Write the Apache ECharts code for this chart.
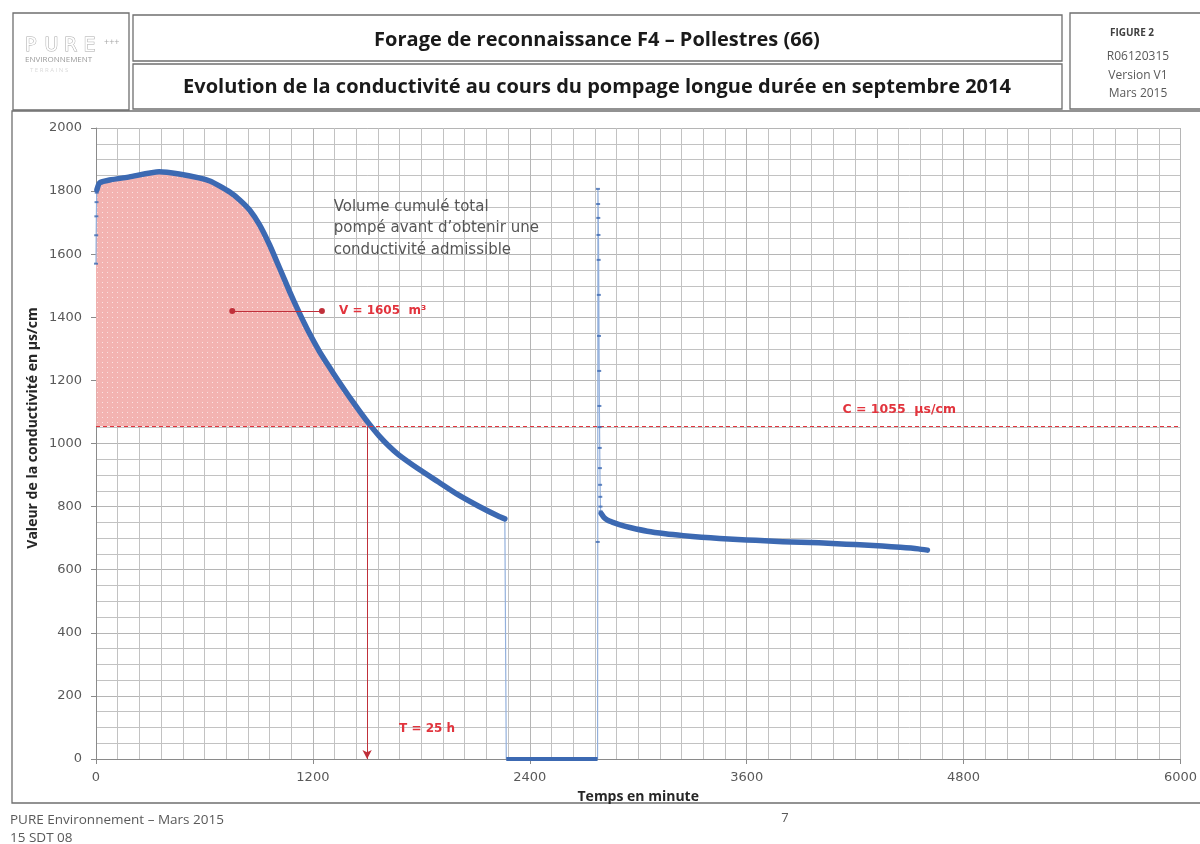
<!DOCTYPE html>
<html lang="fr">
<head>
<meta charset="utf-8">
<title>Forage F4 – Pollestres : évolution de la conductivité</title>
<script src="https://cdn.jsdelivr.net/npm/echarts@6/dist/echarts.min.js"></script>
<style>
  html, body { margin: 0; padding: 0; background: #ffffff; }
  #chart { width: 1200px; height: 844px; }
</style>
</head>
<body>
<div id="chart"></div>
<script>
// Démarrage du pompage (premières mesures, minutes / µs/cm)
const tempsDemarrage = [0, 1, 2, 3, 4];
const condDemarrage = [1570, 1660, 1720, 1765, 1795];

// Pompage longue durée – première phase
const tempsPhase1 = [5, 20, 75, 185, 350, 460, 570, 630, 685, 740, 795, 850, 905, 960, 1015, 1070,
  1125, 1180, 1235, 1290, 1345, 1400, 1455, 1510, 1565, 1620, 1675, 1785, 1895, 2005, 2115, 2225, 2262];
const condPhase1 = [1804, 1826, 1835, 1845, 1861, 1854, 1842, 1832, 1816, 1797, 1772, 1740, 1693,
  1630, 1557, 1483, 1414, 1350, 1293, 1243, 1195, 1149, 1105, 1063, 1025, 992, 964, 919, 878, 837,
  802, 770, 761];

// Arrêt de la pompe
const tempsArret = [2270, 2400, 2550, 2700, 2775];
const condArret = [0, 0, 0, 0, 0];

// Reprise du pompage (chute rapide de la conductivité)
const tempsReprise = [2776, 2777, 2778, 2779, 2780, 2781, 2782, 2783, 2784, 2785, 2786, 2787, 2788,
  2789, 2790, 2791, 2792];
const condReprise = [688, 1807, 1759, 1715, 1661, 1582, 1471, 1341, 1230, 1119, 1052, 986, 922,
  869, 831, 800, 785];

// Pompage longue durée – seconde phase
const tempsPhase2 = [2795, 2810, 2830, 2860, 2900, 2960, 3050, 3150, 3250, 3350, 3450, 3550, 3650,
  3750, 3850, 3950, 4050, 4150, 4250, 4350, 4450, 4550, 4600];
const condPhase2 = [778, 766, 757, 750, 742, 733, 722, 714, 708, 703, 699, 696, 693, 690, 688, 686,
  684, 681, 678, 675, 671, 666, 662];

// Repères d'interprétation
const seuilConductivite = 1055;   // µs/cm, conductivité admissible
const tempsSeuil = 1500;          // minutes (25 h)
const volumeCumule = 1605;        // m3 pompés avant le seuil
const flecheVolume = [[754, 1420], [1250, 1420]];

// Graduations des axes
const ticksX = [0, 1200, 2400, 3600, 4800, 6000];
const ticksY = [0, 200, 400, 600, 800, 1000, 1200, 1400, 1600, 1800, 2000];

const pairs = (xs, ys) => xs.map((x, i) => [x, ys[i]]);

const bleu = '#3c69b2';
const bleuClair = '#93b0dc';
const rouge = '#e2343d';
const rougeFonce = '#c0303a';
const gris = '#595959';
const police = '"Open Sans", "Liberation Sans", sans-serif';
const policeLarge = '"DejaVu Sans", "Open Sans", sans-serif';

// Motif rose pointillé pour le volume cumulé
const motif = document.createElement('canvas');
motif.width = 5; motif.height = 5;
(function () {
  const c = motif.getContext('2d');
  c.fillStyle = '#f3b3b1';
  c.fillRect(0, 0, 5, 5);
  c.fillStyle = '#fbe3e2';
  c.fillRect(2, 2, 1, 1);
})();

// Zone entre la courbe et le seuil, jusqu'à T = 25 h
const zoneVolume = pairs(tempsDemarrage, condDemarrage)
  .concat(pairs(tempsPhase1, condPhase1).filter(p => p[0] < tempsSeuil))
  .concat([[tempsSeuil, seuilConductivite]]);

const toutesMesures = pairs(tempsDemarrage, condDemarrage)
  .concat(pairs(tempsPhase1, condPhase1))
  .concat(pairs(tempsArret, condArret))
  .concat(pairs(tempsReprise, condReprise))
  .concat(pairs(tempsPhase2, condPhase2));

const chart = echarts.init(document.getElementById('chart'), null, { renderer: 'canvas' });

const gridLeft = 96, gridTop = 128, gridRight = 14, gridBottom = 85;

const cadre = (x, y, w, h) => ({
  type: 'rect', shape: { x, y, width: w, height: h }, silent: true,
  style: { fill: 'none', stroke: '#6f6f6f', lineWidth: 1.3 }
});
const texte = (x, y, t, opts, extra) => Object.assign({
  type: 'text', x, y, silent: true, z: 20,
  style: Object.assign({ text: t, fill: gris, font: '11px ' + police, align: 'left', verticalAlign: 'middle' }, opts || {})
}, extra || {});

const lettresLogo = ['P', 'U', 'R', 'E'];
const logo = lettresLogo.map((l, i) => texte(25 + i * 19.5, 46, l,
  { font: '19px ' + policeLarge, fill: '#ffffff', stroke: '#a9a9a9', lineWidth: 1 }));

const miseEnPage = [
  cadre(13, 13, 116, 97),
  cadre(133, 15, 929, 46),
  cadre(133, 64, 929, 45),
  cadre(1070, 13, 140, 96),
  cadre(12, 111, 1200, 692)
].concat(logo).concat([
  texte(104, 42, '+++', { font: '9px ' + police, fill: '#a8a8a8' }),
  texte(25, 60, 'ENVIRONNEMENT', { font: '8px ' + police, fill: '#9a9a9a' }),
  texte(30, 70, 'T E R R A I N S', { font: '6px ' + police, fill: '#dadada' }),
  // Titres
  texte(597, 40, 'Forage de reconnaissance F4 – Pollestres (66)', { font: 'bold 20px ' + police, fill: '#1a1a1a', align: 'center' }),
  texte(597, 87, 'Evolution de la conductivité au cours du pompage longue durée en septembre 2014', { font: 'bold 20px ' + police, fill: '#1a1a1a', align: 'center' }),
  // Cartouche figure
  texte(1132, 33, 'FIGURE 2', { font: 'bold 10px ' + police, fill: '#404040', align: 'center' }),
  texte(1138, 57, 'R06120315', { font: '12px ' + police, align: 'center' }),
  texte(1138, 76, 'Version V1', { font: '12px ' + police, align: 'center' }),
  texte(1138, 94, 'Mars 2015', { font: '12px ' + police, align: 'center' }),
  // Titre de l'axe des conductivités
  texte(33, 428, 'Valeur de la conductivité en µs/cm', { font: 'bold 14px ' + police, fill: '#262626', align: 'center' }, { rotation: Math.PI / 2 }),
  // Pied de page
  texte(10, 820, 'PURE Environnement – Mars 2015', { font: '13.5px ' + police }),
  texte(10, 838, '15 SDT 08', { font: '13.5px ' + police }),
  texte(785, 818, '7', { font: '13px ' + police, align: 'center' })
]);

const option = {
  backgroundColor: '#ffffff',
  animation: false,
  textStyle: { fontFamily: police },
  grid: { left: gridLeft, top: gridTop, right: gridRight, bottom: gridBottom, containLabel: false },
  xAxis: {
    type: 'value', min: ticksX[0], max: ticksX[ticksX.length - 1], interval: ticksX[1] - ticksX[0],
    name: 'Temps en minute', nameLocation: 'middle', nameGap: 31,
    nameTextStyle: { fontWeight: 'bold', fontSize: 14, color: '#262626', fontFamily: police },
    axisLine: { show: true, lineStyle: { color: '#8a8a8a', width: 1 } },
    axisTick: { show: true, length: 5, lineStyle: { color: '#8a8a8a' } },
    axisLabel: { color: gris, fontSize: 13, margin: 12, fontFamily: policeLarge, formatter: v => String(v) },
    splitLine: { show: true, lineStyle: { color: '#b5b5b5', width: 1 } },
    minorTick: { show: false, splitNumber: 10 },
    minorSplitLine: { show: true, lineStyle: { color: '#c2c2c2', width: 1 } }
  },
  yAxis: {
    type: 'value', min: ticksY[0], max: ticksY[ticksY.length - 1], interval: ticksY[1] - ticksY[0],
    axisLine: { show: true, lineStyle: { color: '#8a8a8a', width: 1 } },
    axisTick: { show: true, length: 5, lineStyle: { color: '#8a8a8a' } },
    axisLabel: { color: gris, fontSize: 13, margin: 14, fontFamily: policeLarge, formatter: v => String(v) },
    splitLine: { show: true, lineStyle: { color: '#b5b5b5', width: 1 } },
    minorTick: { show: false, splitNumber: 4 },
    minorSplitLine: { show: true, lineStyle: { color: '#c2c2c2', width: 1 } }
  },
  series: [
    {
      name: 'Volume cumulé', type: 'line', data: zoneVolume, symbol: 'none', z: 1,
      lineStyle: { width: 0 },
      areaStyle: { origin: seuilConductivite, color: { image: motif, repeat: 'repeat' }, opacity: 1 }
    },
    {
      name: 'Liaison', type: 'line', data: toutesMesures, symbol: 'none', z: 2,
      lineStyle: { color: bleuClair, width: 1.2 }
    },
    {
      name: 'Phase 1', type: 'line', data: pairs(tempsPhase1, condPhase1), symbol: 'none', smooth: 0.2, z: 4,
      lineStyle: { color: bleu, width: 5.5, cap: 'round', join: 'round' }
    },
    {
      name: 'Arrêt', type: 'line', data: pairs(tempsArret, condArret), symbol: 'none', z: 4,
      lineStyle: { color: bleu, width: 4 }
    },
    {
      name: 'Phase 2', type: 'line', data: pairs(tempsPhase2, condPhase2), symbol: 'none', smooth: 0.2, z: 4,
      lineStyle: { color: bleu, width: 5.5, cap: 'round', join: 'round' }
    },
    {
      name: 'Mesures ponctuelles', type: 'scatter', z: 5,
      data: pairs(tempsDemarrage, condDemarrage).concat(pairs(tempsReprise, condReprise)),
      symbol: 'rect', symbolSize: [4, 2], itemStyle: { color: bleu }
    },
    {
      name: 'Repères', type: 'line', data: [], z: 6,
      markLine: {
        silent: true, animation: false,
        label: { show: false },
        data: [
          [
            { coord: [ticksX[0], seuilConductivite], symbol: 'none' },
            { coord: [ticksX[ticksX.length - 1], seuilConductivite], symbol: 'none', lineStyle: { color: rouge, type: [4, 3], width: 1.2 } }
          ],
          [
            { coord: [tempsSeuil, seuilConductivite], symbol: 'none' },
            { coord: [tempsSeuil, 0], symbol: 'arrow', symbolSize: [7, 9], lineStyle: { color: rougeFonce, type: 'solid', width: 1 } }
          ],
          [
            { coord: flecheVolume[0], symbol: 'circle', symbolSize: 6 },
            { coord: flecheVolume[1], symbol: 'circle', symbolSize: 6, lineStyle: { color: rougeFonce, type: 'solid', width: 1 } }
          ]
        ],
        lineStyle: { color: rouge, type: 'solid', width: 1 },
        itemStyle: { color: rouge }
      }
    }
  ],
  graphic: miseEnPage
};

chart.setOption(option);

// Annotations placées dans le repère des données
const px = (t, v) => chart.convertToPixel({ gridIndex: 0 }, [t, v]);
const pV = px(flecheVolume[1][0], flecheVolume[1][1]);
const pC = px(4130, seuilConductivite);
const pT = px(tempsSeuil, 0);
const pNote = px(1315, 1800);

chart.setOption({
  graphic: miseEnPage.concat([
    texte(pV[0] + 17, pV[1], 'V = ' + volumeCumule + '  m³', { font: 'bold 12px ' + policeLarge, fill: rouge }),
    texte(pC[0], pC[1] - 16, 'C = ' + seuilConductivite + '  µs/cm', { font: 'bold 12.5px ' + policeLarge, fill: rouge }),
    texte(pT[0] + 32, pT[1] - 30, 'T = 25 h', { font: 'bold 12px ' + policeLarge, fill: rouge }),
    texte(pNote[0], pNote[1] + 5, 'Volume cumulé total\npompé avant d\u2019obtenir une\nconductivité admissible',
      { font: '15px ' + policeLarge, fill: '#555555', verticalAlign: 'top', lineHeight: 21.5 })
  ])
});
</script>
</body>
</html>
